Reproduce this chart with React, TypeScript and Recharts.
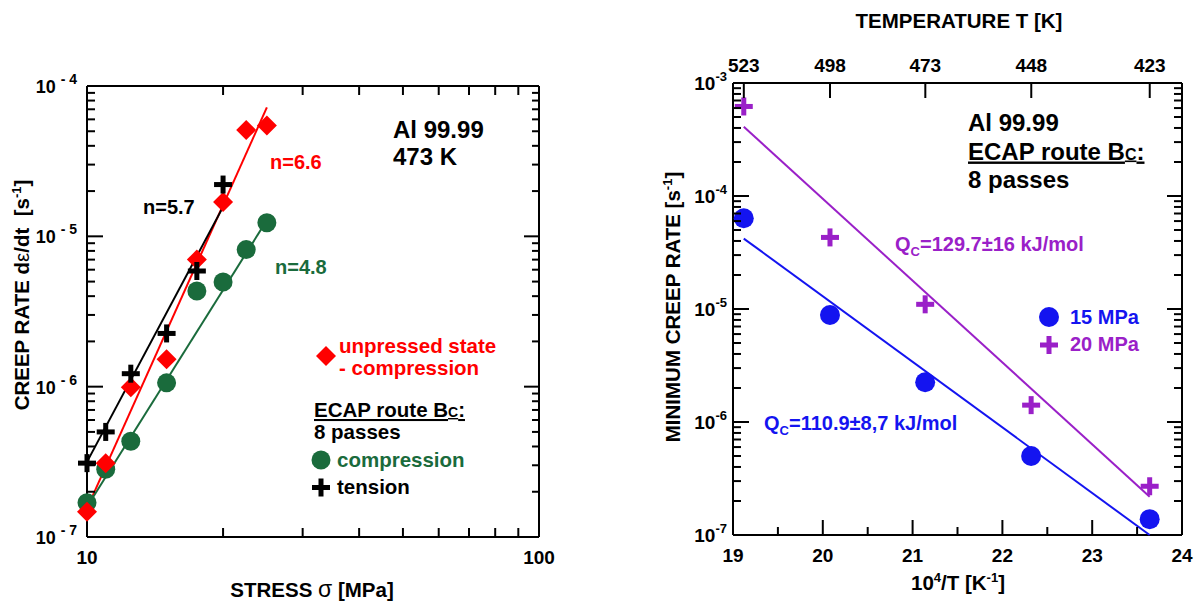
import React from 'react';
import { ScatterChart, Scatter, XAxis, YAxis } from 'recharts';

const FONT = '"Liberation Sans", Arial, Helvetica, sans-serif';
const RED = '#ff0000';
const GREEN = '#1a6b3c';
const BLUE = '#1414f0';
const PURPLE = '#9a20c8';

// ---------- Left panel: creep rate vs stress (Al 99.99, 473 K) ----------
const stressUnpressed = [10, 11, 12.5, 15, 17.5, 20, 22.5, 25];
const rateUnpressed = [1.47e-7, 3.1e-7, 9.9e-7, 1.52e-6, 7.0e-6, 1.69e-5, 5.1e-5, 5.47e-5];
const stressCompression = [10, 11, 12.5, 15, 17.5, 20, 22.5, 25];
const rateCompression = [1.69e-7, 2.82e-7, 4.34e-7, 1.06e-6, 4.33e-6, 4.97e-6, 8.16e-6, 1.23e-5];
const stressTension = [10, 11, 12.5, 15, 17.5, 20];
const rateTension = [3.1e-7, 5.0e-7, 1.22e-6, 2.26e-6, 5.88e-6, 2.21e-5];
const fitUnpressedStress = [10, 25];
const fitUnpressedRate = [1.55e-7, 7.2e-5];
const fitTensionStress = [10, 20];
const fitTensionRate = [3.16e-7, 1.57e-5];
const fitCompressionStress = [10, 25];
const fitCompressionRate = [1.59e-7, 1.28e-5];
const stressDomain = [10, 100];
const leftRateDomain = [1e-7, 1e-4];
const stressTicks = [10, 20, 30, 40, 50, 60, 70, 80, 90, 100];
const stressLabelTicks = [10, 100];
const leftRateDecades = [1e-7, 1e-6, 1e-5, 1e-4];

// ---------- Right panel: minimum creep rate vs 10^4/T ----------
const invTemp = [19.12, 20.08, 21.14, 22.32, 23.64];
const rate15MPa = [6.35e-5, 8.85e-6, 2.25e-6, 5.0e-7, 1.38e-7];
const rate20MPa = [6.2e-4, 4.3e-5, 1.1e-5, 1.41e-6, 2.7e-7];
const fit15InvTemp = [19.12, 23.64];
const fit15Rate = [4.2e-5, 1.0e-7];
const fit20InvTemp = [19.12, 23.64];
const fit20Rate = [4.1e-4, 2.18e-7];
const invTempDomain = [19, 24];
const rightRateDomain = [1e-7, 1e-3];
const invTempMajorTicks = [19, 20, 21, 22, 23, 24];
const invTempMinorTicks = [19.5, 20.5, 21.5, 22.5, 23.5];
const tempTickLabels = [523, 498, 473, 448, 423];
const rightRateDecades = [1e-7, 1e-6, 1e-5, 1e-4, 1e-3];

const minorMultipliers = [2, 3, 4, 5, 6, 7, 8, 9];
const minorLogTicks = (decades: number[]) => {
  const out: number[] = [];
  decades.slice(0, -1).forEach((d) => minorMultipliers.forEach((m) => out.push(d * m)));
  return out;
};

// ---------- Panel geometry (plot rectangles in page pixels) ----------
const PANEL_A = { x0: 0, w: 600, h: 604, left: 87, right: 539, top: 86, bottom: 537 };
const PANEL_B = { x0: 600, w: 598, h: 604, left: 733, right: 1182, top: 83, bottom: 535 };
const marginOf = (p: typeof PANEL_A) => ({
  top: p.top - 1,
  bottom: p.h - p.bottom - 1,
  left: p.left - p.x0 - 1,
  right: p.x0 + p.w - p.right - 1,
});
const lin = (v: number, d: number[], a: number, b: number) => a + ((v - d[0]) / (d[1] - d[0])) * (b - a);
const logm = (v: number, d: number[], a: number, b: number) =>
  a + ((Math.log10(v) - Math.log10(d[0])) / (Math.log10(d[1]) - Math.log10(d[0]))) * (b - a);

const toPoints = (xs: number[], ys: number[]) => xs.map((x, i) => ({ x, y: ys[i] }));

// ---------- Marker shapes ----------
const Diamond = (color: string, r: number) => (p: any) => (
  <path d={`M${p.cx},${p.cy - r} L${p.cx + r},${p.cy} L${p.cx},${p.cy + r} L${p.cx - r},${p.cy} Z`} fill={color} />
);
const Dot = (color: string, r: number) => (p: any) => <circle cx={p.cx} cy={p.cy} r={r} fill={color} />;
const Plus = (color: string, h: number, w: number) => (p: any) => (
  <g fill={color}>
    <rect x={p.cx - h} y={p.cy - w / 2} width={2 * h} height={w} />
    <rect x={p.cx - w / 2} y={p.cy - h} width={w} height={2 * h} />
  </g>
);
const Nothing = () => <g />;

// ---------- Tick label renderers ----------
const leftLabelA = (props: any) => {
  const x = Number(props.x);
  const y = Number(props.y);
  const exp = Math.round(Math.log10(props.payload.value));
  return (
    <text x={x - 10} y={y + 7} textAnchor="end" fontFamily={FONT} fontWeight="bold" fontSize={18} fill="#000" stroke="none">
      10
      <tspan fontSize={14} dx={5} dy={-9}>{`- ${-exp}`}</tspan>
    </text>
  );
};
const bottomLabelA = (props: any) => {
  const x = Number(props.x);
  const y = Number(props.y);
  const v = props.payload.value;
  if (!stressLabelTicks.includes(v)) return <g />;
  return (
    <text x={x} y={y + 27} textAnchor="middle" fontFamily={FONT} fontWeight="bold" fontSize={19} fill="#000" stroke="none">
      {v}
    </text>
  );
};
const leftLabelB = (props: any) => {
  const x = Number(props.x);
  const y = Number(props.y);
  const exp = Math.round(Math.log10(props.payload.value));
  return (
    <text x={x - 6} y={y + 7} textAnchor="end" fontFamily={FONT} fontWeight="bold" fontSize={19} fill="#000" stroke="none">
      10
      <tspan fontSize={13} dy={-9}>{`${exp}`}</tspan>
    </text>
  );
};
const bottomLabelB = (props: any) => {
  const x = Number(props.x);
  const y = Number(props.y);
  return (
    <text x={x} y={y + 27} textAnchor="middle" fontFamily={FONT} fontWeight="bold" fontSize={19} fill="#000" stroke="none">
      {props.payload.value}
    </text>
  );
};
const topLabelB = (props: any) => {
  const x = Number(props.x);
  const y = Number(props.y);
  return (
    <text x={x} y={y - 11} textAnchor="middle" fontFamily={FONT} fontWeight="bold" fontSize={19} fill="#000" stroke="none">
      {Math.round(1e4 / props.payload.value)}
    </text>
  );
};

const axisLine = { stroke: '#000', strokeWidth: 2 };
const axisCommon = { tickSize: 0, tickMargin: 0, tickLine: false, interval: 0 as const };
const S = { isAnimationActive: false, xAxisId: 'b', yAxisId: 'l' };

const LeftChart = () => (
  <ScatterChart width={PANEL_A.w} height={PANEL_A.h} margin={marginOf(PANEL_A)}>
    <XAxis xAxisId="b" type="number" dataKey="x" scale="log" domain={stressDomain} ticks={stressTicks}
      orientation="bottom" height={1} axisLine={axisLine} tick={bottomLabelA} {...axisCommon} />
    <XAxis xAxisId="t" type="number" dataKey="x" scale="log" domain={stressDomain} ticks={stressTicks}
      orientation="top" height={1} axisLine={axisLine} tick={false} {...axisCommon} />
    <YAxis yAxisId="l" type="number" dataKey="y" scale="log" domain={leftRateDomain} ticks={leftRateDecades}
      orientation="left" width={1} axisLine={axisLine} tick={leftLabelA} {...axisCommon} />
    <YAxis yAxisId="r" type="number" dataKey="y" scale="log" domain={leftRateDomain} ticks={leftRateDecades}
      orientation="right" width={1} axisLine={axisLine} tick={false} {...axisCommon} />
    <Scatter xAxisId="t" yAxisId="r" data={toPoints(fitUnpressedStress, fitUnpressedRate)} line={{ stroke: RED, strokeWidth: 2 }} shape={Nothing} isAnimationActive={false} />
    <Scatter xAxisId="t" yAxisId="r" data={toPoints(fitTensionStress, fitTensionRate)} line={{ stroke: '#000', strokeWidth: 2 }} shape={Nothing} isAnimationActive={false} />
    <Scatter xAxisId="t" yAxisId="r" data={toPoints(fitCompressionStress, fitCompressionRate)} line={{ stroke: GREEN, strokeWidth: 2 }} shape={Nothing} isAnimationActive={false} />
    <Scatter {...S} data={toPoints(stressCompression, rateCompression)} shape={Dot(GREEN, 9.5)} />
    <Scatter {...S} data={toPoints(stressUnpressed, rateUnpressed)} shape={Diamond(RED, 10)} />
    <Scatter {...S} data={toPoints(stressTension, rateTension)} shape={Plus('#000', 9, 5)} />
  </ScatterChart>
);

const RightChart = () => (
  <ScatterChart width={PANEL_B.w} height={PANEL_B.h} margin={marginOf(PANEL_B)}>
    <XAxis xAxisId="b" type="number" dataKey="x" domain={invTempDomain} ticks={invTempMajorTicks}
      orientation="bottom" height={1} axisLine={axisLine} tick={bottomLabelB} {...axisCommon} />
    <XAxis xAxisId="t" type="number" dataKey="x" domain={invTempDomain} ticks={tempTickLabels.map((t) => 1e4 / t)}
      orientation="top" height={1} axisLine={axisLine} tick={topLabelB} {...axisCommon} />
    <YAxis yAxisId="l" type="number" dataKey="y" scale="log" domain={rightRateDomain} ticks={rightRateDecades}
      orientation="left" width={1} axisLine={axisLine} tick={leftLabelB} {...axisCommon} />
    <YAxis yAxisId="r" type="number" dataKey="y" scale="log" domain={rightRateDomain} ticks={rightRateDecades}
      orientation="right" width={1} axisLine={axisLine} tick={false} {...axisCommon} />
    <Scatter xAxisId="t" yAxisId="r" data={toPoints(fit20InvTemp, fit20Rate)} line={{ stroke: PURPLE, strokeWidth: 2 }} shape={Nothing} isAnimationActive={false} />
    <Scatter xAxisId="t" yAxisId="r" data={toPoints(fit15InvTemp, fit15Rate)} line={{ stroke: BLUE, strokeWidth: 2 }} shape={Nothing} isAnimationActive={false} />
    <Scatter {...S} data={toPoints(invTemp, rate15MPa)} shape={Dot(BLUE, 10)} />
    <Scatter {...S} data={toPoints(invTemp, rate20MPa)} shape={Plus(PURPLE, 9, 5)} />
  </ScatterChart>
);

// ---------- Inward tick marks (axis decoration) ----------
const HL = (x: number, y: number, len: number, k: string) => (
  <line key={k} x1={x} x2={x + len} y1={y} y2={y} stroke="#000" strokeWidth={2} />
);
const VL = (x: number, y: number, len: number, k: string) => (
  <line key={k} x1={x} x2={x} y1={y} y2={y + len} stroke="#000" strokeWidth={2} />
);

const TickMarks = () => {
  const A = PANEL_A;
  const B = PANEL_B;
  const ayA = (v: number) => logm(v, leftRateDomain, A.bottom, A.top);
  const axA = (v: number) => logm(v, stressDomain, A.left, A.right);
  const ayB = (v: number) => logm(v, rightRateDomain, B.bottom, B.top);
  const axB = (v: number) => lin(v, invTempDomain, B.left, B.right);
  return (
    <g>
      {leftRateDecades.map((v) => HL(A.left, ayA(v), 16, `a1${v}`))}
      {minorLogTicks(leftRateDecades).map((v) => HL(A.left, ayA(v), 8, `a2${v}`))}
      {leftRateDecades.map((v) => HL(A.right, ayA(v), -15, `a3${v}`))}
      {minorLogTicks(leftRateDecades).map((v) => HL(A.right, ayA(v), -7, `a4${v}`))}
      {stressTicks.map((v) => VL(axA(v), A.bottom, -9, `a5${v}`))}
      {stressTicks.map((v) => VL(axA(v), A.top, 9, `a6${v}`))}
      {rightRateDecades.map((v) => HL(B.left, ayB(v), 16, `b1${v}`))}
      {minorLogTicks(rightRateDecades).map((v) => HL(B.left, ayB(v), 8, `b2${v}`))}
      {rightRateDecades.map((v) => HL(B.right, ayB(v), -15, `b3${v}`))}
      {minorLogTicks(rightRateDecades).map((v) => HL(B.right, ayB(v), -8, `b4${v}`))}
      {invTempMajorTicks.map((v) => VL(axB(v), B.bottom, -15, `b5${v}`))}
      {invTempMinorTicks.map((v) => VL(axB(v), B.bottom, -8, `b6${v}`))}
      {tempTickLabels.map((t) => VL(axB(1e4 / t), B.top, 15, `b7${t}`))}
    </g>
  );
};

const T = (p: any) => <text fontFamily={FONT} fontWeight="bold" {...p} />;

const Overlay = () => (
  <svg width={1198} height={604} style={{ position: 'absolute', left: 0, top: 0, pointerEvents: 'none' }}>
    {/* Left panel texts */}
    <T x={22} y={295} fontSize={20.5} textAnchor="middle" transform="rotate(-90 22 295)" dy={7}>
      CREEP RATE d<tspan fontWeight="normal">ε</tspan>/dt{'\u00A0\u00A0'}[s<tspan fontSize={13} dy={-8}>-1</tspan><tspan dy={8}>]</tspan>
    </T>
    <T x={312} y={597} fontSize={20.5} textAnchor="middle">
      STRESS <tspan fontWeight="normal" fontSize={23}>σ</tspan> [MPa]
    </T>
    <T x={393} y={137.5} fontSize={24}>Al 99.99</T>
    <T x={393} y={165} fontSize={24}>473 K</T>
    <T x={270} y={169} fontSize={20} fill={RED}>n=6.6</T>
    <T x={143} y={213.5} fontSize={20} fill="#000">n=5.7</T>
    <T x={275} y={274} fontSize={20} fill={GREEN}>n=4.8</T>
    <path d="M326,346 L336,356 L326,366 L316,356 Z" fill={RED} />
    <T x={339} y={352.5} fontSize={20.5} fill={RED}>unpressed state</T>
    <T x={339} y={375} fontSize={20.5} fill={RED}>- compression</T>
    <T x={314} y={417} fontSize={20.5} style={{ textDecoration: 'underline' }}>
      ECAP route B<tspan fontSize={14}>C</tspan>:
    </T>
    <T x={314} y={439} fontSize={20.5}>8 passes</T>
    <circle cx={321} cy={460} r={9.5} fill={GREEN} />
    <T x={337} y={467} fontSize={20.5} fill={GREEN}>compression</T>
    <rect x={312} y={485} width={18} height={5} fill="#000" />
    <rect x={318.5} y={478.5} width={5} height={18} fill="#000" />
    <T x={337} y={494} fontSize={20.5}>tension</T>

    {/* Right panel texts */}
    <T x={959} y={28} fontSize={20.5} textAnchor="middle">TEMPERATURE T [K]</T>
    <T x={673} y={307} fontSize={20.5} textAnchor="middle" transform="rotate(-90 673 307)" dy={7}>
      MINIMUM CREEP RATE [s<tspan fontSize={13} dy={-8}>-1</tspan><tspan dy={8}>]</tspan>
    </T>
    <T x={958} y={590} fontSize={20.5} textAnchor="middle">
      10<tspan fontSize={13} dy={-8}>4</tspan><tspan dy={8}>/T [K</tspan><tspan fontSize={13} dy={-8}>-1</tspan><tspan dy={8}>]</tspan>
    </T>
    <T x={968} y={130.5} fontSize={24}>Al 99.99</T>
    <T x={968} y={159.5} fontSize={24} style={{ textDecoration: 'underline' }}>
      ECAP route B<tspan fontSize={16}>C</tspan>:
    </T>
    <T x={968} y={187.5} fontSize={24}>8 passes</T>
    <T x={895} y={251} fontSize={20} fill={PURPLE}>
      Q<tspan fontSize={13} dy={5}>C</tspan><tspan dy={-5}>=129.7±16 kJ/mol</tspan>
    </T>
    <circle cx={1049} cy={317} r={10} fill={BLUE} />
    <T x={1070} y={324} fontSize={20} fill={BLUE}>15 MPa</T>
    <rect x={1040} y={342.5} width={18} height={5} fill={PURPLE} />
    <rect x={1046.5} y={336} width={5} height={18} fill={PURPLE} />
    <T x={1070} y={351} fontSize={20} fill={PURPLE}>20 MPa</T>
    <T x={764} y={430} fontSize={20} fill={BLUE}>
      Q<tspan fontSize={13} dy={5}>C</tspan><tspan dy={-5}>=110.9±8,7 kJ/mol</tspan>
    </T>
    <TickMarks />
  </svg>
);

export default function App() {
  return (
    <div style={{ position: 'absolute', left: 0, top: 0, width: 1198, height: 604, background: '#fff', overflow: 'hidden' }}>
      <div style={{ position: 'absolute', left: PANEL_A.x0, top: 0 }}>
        <LeftChart />
      </div>
      <div style={{ position: 'absolute', left: PANEL_B.x0, top: 0 }}>
        <RightChart />
      </div>
      <Overlay />
    </div>
  );
}
